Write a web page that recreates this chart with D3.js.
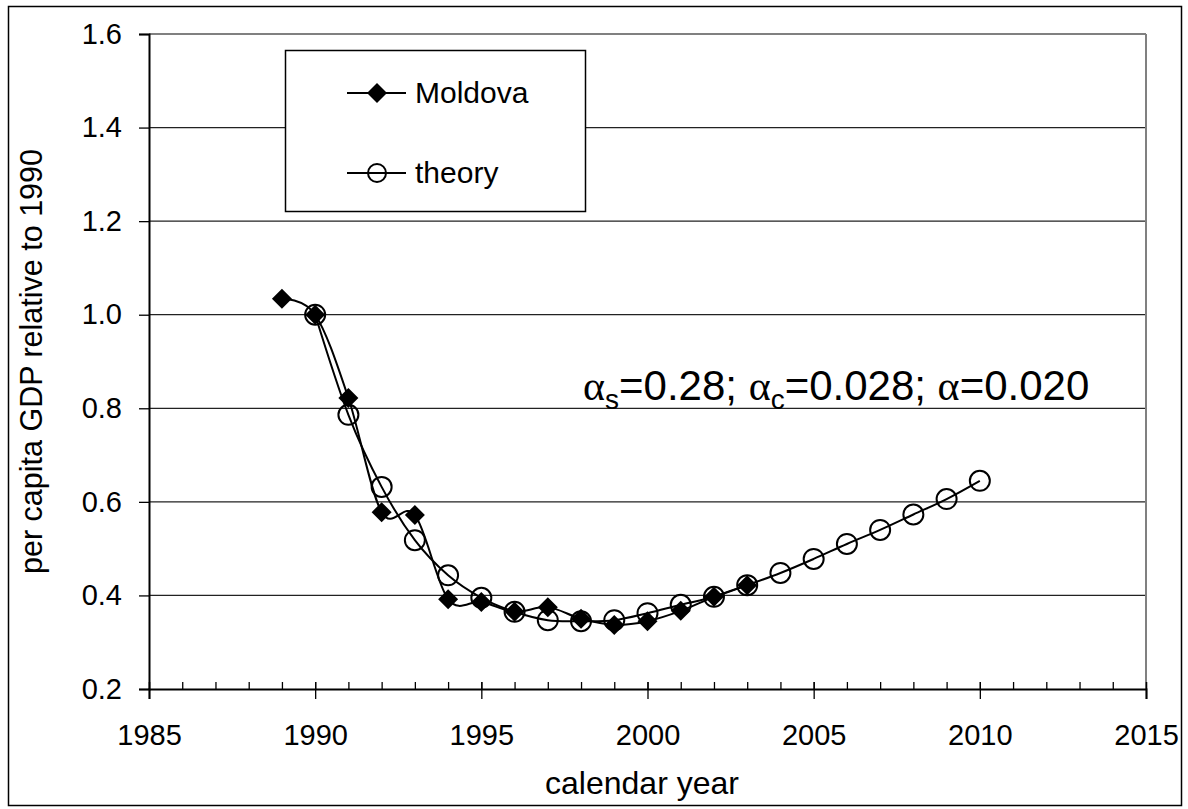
<!DOCTYPE html>
<html>
<head>
<meta charset="utf-8">
<script src="https://cdn.jsdelivr.net/npm/d3@7"></script>
<style>
  html, body { margin: 0; padding: 0; background: #fff; }
  svg { display: block; font-family: "Liberation Sans", Arial, sans-serif; }
</style>
</head>
<body>
<svg id="chart" width="1188" height="809"></svg>
<script>
// Observed per capita GDP of Moldova, relative to 1990
const moldovaYears = [1989, 1990, 1991, 1992, 1993, 1994, 1995, 1996, 1997, 1998, 1999, 2000, 2001, 2002, 2003];
const moldovaValues = [1.034, 1.000, 0.822, 0.578, 0.572, 0.392, 0.386, 0.365, 0.375, 0.350, 0.337, 0.345, 0.367, 0.397, 0.422];

// Model prediction
const theoryYears = [1990, 1991, 1992, 1993, 1994, 1995, 1996, 1997, 1998, 1999, 2000, 2001, 2002, 2003, 2004, 2005, 2006, 2007, 2008, 2009, 2010];
const theoryValues = [1.000, 0.786, 0.632, 0.518, 0.443, 0.395, 0.365, 0.347, 0.345, 0.347, 0.362, 0.380, 0.397, 0.422, 0.448, 0.478, 0.510, 0.540, 0.573, 0.606, 0.645];

// Axis ticks
const xMajorTicks = [1985, 1990, 1995, 2000, 2005, 2010, 2015];
const xMinorTicks = d3.range(1985, 2016);
const yTicks = [0.2, 0.4, 0.6, 0.8, 1.0, 1.2, 1.4, 1.6];

const seriesNames = ["Moldova", "theory"];

const svg = d3.select("#chart");
const plot = { left: 149, right: 1146, top: 34, bottom: 689 };

const x = d3.scaleLinear().domain([1985, 2015]).range([plot.left, plot.right]);
const y = d3.scaleLinear().domain([0.2, 1.6]).range([plot.bottom, plot.top]);

// Outer frame
svg.append("rect")
  .attr("x", 8.5).attr("y", 6.5)
  .attr("width", 1173).attr("height", 799)
  .attr("fill", "#fff").attr("stroke", "#000").attr("stroke-width", 1.5);

// Horizontal gridlines
svg.append("g").selectAll("line")
  .data(yTicks.filter(v => v > 0.2 && v < 1.6))
  .join("line")
  .attr("x1", plot.left).attr("x2", plot.right)
  .attr("y1", d => y(d)).attr("y2", d => y(d))
  .attr("stroke", "#222").attr("stroke-width", 1.3);

// Plot-area top and right edges
svg.append("line")
  .attr("x1", plot.left).attr("x2", plot.right)
  .attr("y1", y(1.6)).attr("y2", y(1.6))
  .attr("stroke", "#808080").attr("stroke-width", 2);
svg.append("line")
  .attr("x1", plot.right).attr("x2", plot.right)
  .attr("y1", plot.top).attr("y2", plot.bottom)
  .attr("stroke", "#808080").attr("stroke-width", 2);

// Y axis
const yAxis = svg.append("g")
  .attr("transform", `translate(${plot.left},0)`)
  .call(d3.axisLeft(y).tickValues(yTicks).tickFormat(d3.format(".1f")).tickSize(10).tickPadding(17));
yAxis.select(".domain").attr("stroke", "#000").attr("stroke-width", 2);
yAxis.selectAll(".tick line").attr("stroke", "#000").attr("stroke-width", 1.3);
yAxis.selectAll(".tick text")
  .attr("font-family", "Liberation Sans, Arial, sans-serif")
  .attr("font-size", 29).attr("fill", "#000");

// X axis: minor ticks inside, major ticks crossing the axis line
const xMinor = svg.append("g")
  .attr("transform", `translate(0,${plot.bottom})`)
  .call(d3.axisTop(x).tickValues(xMinorTicks).tickFormat("").tickSize(7));
xMinor.select(".domain").remove();
xMinor.selectAll(".tick line").attr("stroke", "#000").attr("stroke-width", 1.3);

const xAxis = svg.append("g")
  .attr("transform", `translate(0,${plot.bottom})`)
  .call(d3.axisBottom(x).tickValues(xMajorTicks).tickFormat(d3.format("d")).tickSize(10).tickPadding(25));
xAxis.select(".domain").attr("stroke", "#000").attr("stroke-width", 2);
xAxis.selectAll(".tick line").attr("y1", -7).attr("stroke", "#000").attr("stroke-width", 1.3);
xAxis.selectAll(".tick text")
  .attr("font-family", "Liberation Sans, Arial, sans-serif")
  .attr("font-size", 29).attr("fill", "#000");

// Axis titles
svg.append("text")
  .attr("x", 642).attr("y", 794)
  .attr("text-anchor", "middle").attr("font-size", 32)
  .text("calendar year");
svg.append("text")
  .attr("transform", `translate(42,${(plot.top + plot.bottom) / 2}) rotate(-90)`)
  .attr("text-anchor", "middle").attr("font-size", 30.5)
  .text("per capita GDP relative to 1990");

// Smoothed series lines
const line = d3.line()
  .x(d => x(d[0])).y(d => y(d[1]))
  .curve(d3.curveCardinal.tension(0));

const moldova = d3.zip(moldovaYears, moldovaValues);
const theory = d3.zip(theoryYears, theoryValues);

const diamond = s => `M0,${-s}L${s},0L0,${s}L${-s},0Z`;

svg.append("path").datum(moldova)
  .attr("d", line).attr("fill", "none")
  .attr("stroke", "#000").attr("stroke-width", 2);
svg.append("g").selectAll("path")
  .data(moldova).join("path")
  .attr("transform", d => `translate(${x(d[0])},${y(d[1])})`)
  .attr("d", diamond(10)).attr("fill", "#000");

svg.append("path").datum(theory)
  .attr("d", line).attr("fill", "none")
  .attr("stroke", "#000").attr("stroke-width", 2);
svg.append("g").selectAll("circle")
  .data(theory).join("circle")
  .attr("cx", d => x(d[0])).attr("cy", d => y(d[1]))
  .attr("r", 10).attr("fill", "none")
  .attr("stroke", "#000").attr("stroke-width", 2);

// Legend
const legend = svg.append("g");
legend.append("rect")
  .attr("x", 285.5).attr("y", 50.5).attr("width", 300).attr("height", 161)
  .attr("fill", "#fff").attr("stroke", "#000").attr("stroke-width", 1.5);
const legendRows = [93, 173];
seriesNames.forEach((name, i) => {
  const cy = legendRows[i];
  legend.append("line")
    .attr("x1", 347).attr("x2", 406).attr("y1", cy).attr("y2", cy)
    .attr("stroke", "#000").attr("stroke-width", 2);
  if (i === 0) {
    legend.append("path")
      .attr("transform", `translate(377,${cy})`)
      .attr("d", diamond(10)).attr("fill", "#000");
  } else {
    legend.append("circle")
      .attr("cx", 377).attr("cy", cy).attr("r", 9)
      .attr("fill", "none").attr("stroke", "#000").attr("stroke-width", 2);
  }
  legend.append("text")
    .attr("x", 415).attr("y", cy + 10)
    .attr("font-size", 30).text(name);
});

// Parameter annotation
const note = svg.append("text")
  .attr("x", 583).attr("y", 400)
  .attr("font-size", 42);
const greek = "Liberation Serif, DejaVu Serif, serif";
note.append("tspan").attr("font-family", greek).text("α");
note.append("tspan").attr("font-size", 28).attr("dy", 9).text("s");
note.append("tspan").attr("dy", -9).text("=0.28; ");
note.append("tspan").attr("font-family", greek).text("α");
note.append("tspan").attr("font-size", 28).attr("dy", 9).text("c");
note.append("tspan").attr("dy", -9).text("=0.028; ");
note.append("tspan").attr("font-family", greek).text("α");
note.append("tspan").text("=0.020");
</script>
</body>
</html>
